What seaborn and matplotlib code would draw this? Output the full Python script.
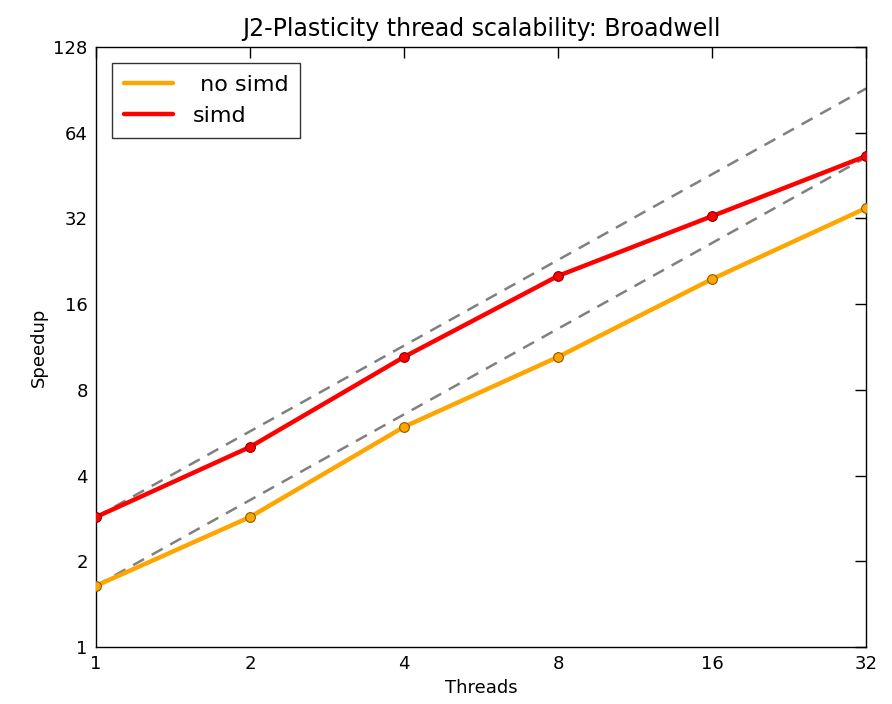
import seaborn as sns
import matplotlib.pyplot as plt
import matplotlib.ticker as mticker
import numpy as np
import pandas as pd

threads = [1, 2, 4, 8, 16, 32]
speedup_no_simd = [1.64, 2.86, 5.93, 10.44, 19.6, 34.8]
speedup_simd = [2.86, 5.04, 10.44, 20.1, 32.6, 53.0]
ticks_x = [1, 2, 4, 8, 16, 32]
ticks_y = [1, 2, 4, 8, 16, 32, 64, 128]

sns.set_style('white')
plt.rcParams['font.family'] = ['DejaVu Sans']
plt.rcParams['text.color'] = 'black'
plt.rcParams['axes.labelcolor'] = 'black'

df_plot = pd.DataFrame({
    'Threads': threads * 2,
    'Speedup': speedup_no_simd + speedup_simd,
    'variant': [' no simd'] * len(threads) + ['simd'] * len(threads),
})
palette = {' no simd': '#ffa500', 'simd': '#ff0000'}

fig = plt.figure(figsize=(8.92, 7.04), dpi=100)
ax = fig.add_axes([0.1076, 0.081, 0.8634, 0.8522])

# ideal scaling lines
th = np.array(threads, dtype=float)
for base in (speedup_no_simd[0], speedup_simd[0]):
    ax.plot(th, base * th, color='grey', linestyle='--', linewidth=1.8,
            dashes=(5, 3.5), zorder=1)

sns.lineplot(
    data=df_plot
    , x='Threads'
    , y='Speedup'
    , hue='variant'
    , palette=palette
    , linewidth=3.2
    , ax=ax
    , zorder=2
)
for name, edge in ((' no simd', '#8a5a00'), ('simd', '#8a0000')):
    sub = df_plot[df_plot['variant'] == name]
    ax.plot(sub['Threads'], sub['Speedup'], linestyle='none', marker='o',
            markersize=7, markerfacecolor=palette[name],
            markeredgecolor=edge, markeredgewidth=0.8, zorder=3)

ax.set_xscale('log', base=2)
ax.set_yscale('log', base=2)
ax.set_xlim(1, 32)
ax.set_ylim(1, 128)
ax.set_xticks(ticks_x)
ax.set_yticks(ticks_y)
ax.xaxis.set_major_formatter(mticker.FixedFormatter([str(t) for t in ticks_x]))
ax.yaxis.set_major_formatter(mticker.FixedFormatter([str(t) for t in ticks_y]))
ax.xaxis.set_minor_locator(mticker.NullLocator())
ax.yaxis.set_minor_locator(mticker.NullLocator())
ax.tick_params(direction='in', length=8, width=1, top=True, right=True,
               labelsize=13, colors='black', pad=6)
for s in ax.spines.values():
    s.set_color('black')
    s.set_linewidth(1)

ax.set_xlabel('Threads', fontsize=13, color='black')
ax.set_ylabel('Speedup', fontsize=13, color='black')
ax.set_title('J2-Plasticity thread scalability: Broadwell', fontsize=17,
             pad=8, color='black')

leg = ax.legend(loc='upper left', fontsize=16, frameon=True, fancybox=False,
                handlelength=2.2, borderpad=0.55, labelspacing=0.5,
                handletextpad=0.9, borderaxespad=0.7)
leg.get_frame().set_edgecolor('black')
leg.get_frame().set_linewidth(1)
for line in leg.get_lines():
    line.set_linewidth(3.2)
for t in leg.get_texts():
    t.set_color('black')

fig.savefig('out.png', dpi=100)
